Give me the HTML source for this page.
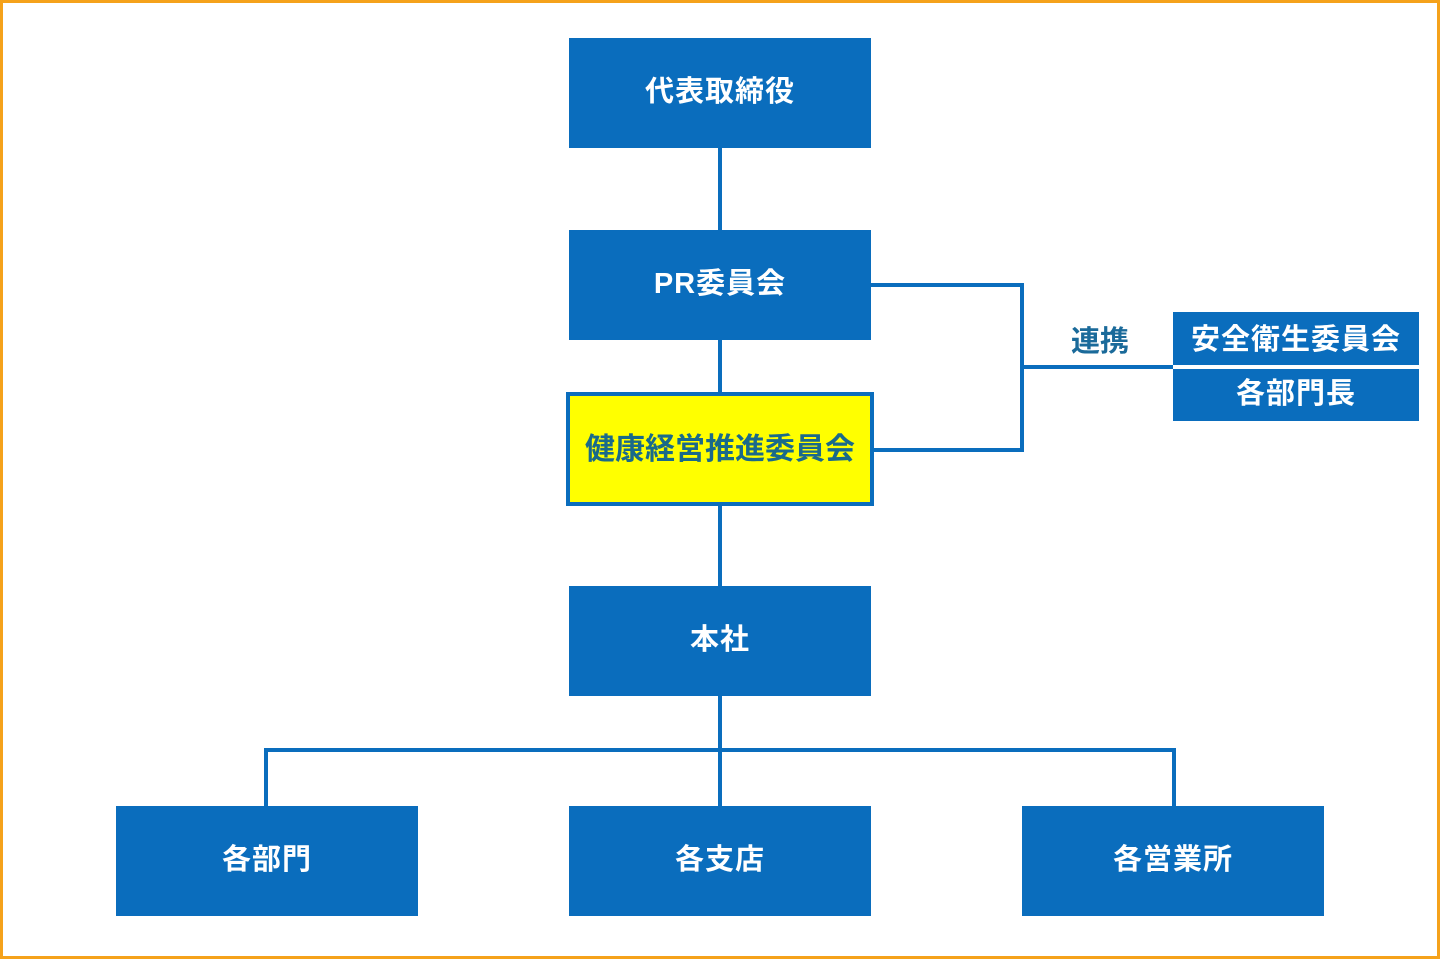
<!DOCTYPE html>
<html><head><meta charset="utf-8"><style>
body{margin:0;width:1440px;height:959px;position:relative;background:#fff;font-family:"Liberation Sans","Noto Sans CJK JP",sans-serif;overflow:hidden}
.frame{position:absolute;left:0;top:0;width:1434px;height:953px;border:3px solid #f5a21b}
.b{position:absolute;box-sizing:border-box;padding-bottom:9px;background:#0a6dbd;color:#fff;font-weight:bold;font-size:29px;display:flex;align-items:center;justify-content:center;letter-spacing:1px}
.l{position:absolute;background:#0a6dbd}
</style></head><body>
<div class="frame"></div>
<div class="l" style="left:718px;top:148px;width:4px;height:82px"></div>
<div class="l" style="left:718px;top:340px;width:4px;height:54px"></div>
<div class="l" style="left:718px;top:504px;width:4px;height:82px"></div>
<div class="l" style="left:718px;top:696px;width:4px;height:110px"></div>
<div class="l" style="left:264px;top:748px;width:912px;height:4px"></div>
<div class="l" style="left:264px;top:748px;width:4px;height:58px"></div>
<div class="l" style="left:1172px;top:748px;width:4px;height:58px"></div>
<div class="l" style="left:871px;top:283px;width:153px;height:4px"></div>
<div class="l" style="left:1020px;top:283px;width:4px;height:169px"></div>
<div class="l" style="left:872px;top:448px;width:152px;height:4px"></div>
<div class="l" style="left:1020px;top:365px;width:153px;height:4px"></div>
<div class="b" style="left:569px;top:38px;width:302px;height:110px">代表取締役</div>
<div class="b" style="left:569px;top:230px;width:302px;height:110px">PR委員会</div>
<div class="b" style="left:566px;top:392px;width:308px;height:114px;padding-bottom:6px;background:#ffff00;color:#1a6a8a;border:4px solid #0a6dbd;font-size:30px;letter-spacing:0">健康経営推進委員会</div>
<div class="b" style="left:569px;top:586px;width:302px;height:110px">本社</div>
<div class="b" style="left:116px;top:806px;width:302px;height:110px">各部門</div>
<div class="b" style="left:569px;top:806px;width:302px;height:110px">各支店</div>
<div class="b" style="left:1022px;top:806px;width:302px;height:110px">各営業所</div>
<div class="b" style="left:1173px;top:312px;width:246px;height:53px;padding-bottom:4px">安全衛生委員会</div>
<div class="b" style="left:1173px;top:369px;width:246px;height:52px;padding-bottom:8px">各部門長</div>
<div style="position:absolute;left:1058px;top:318px;width:84px;text-align:center;font-size:29px;font-weight:bold;color:#1a6a9a">連携</div>
</body></html>
